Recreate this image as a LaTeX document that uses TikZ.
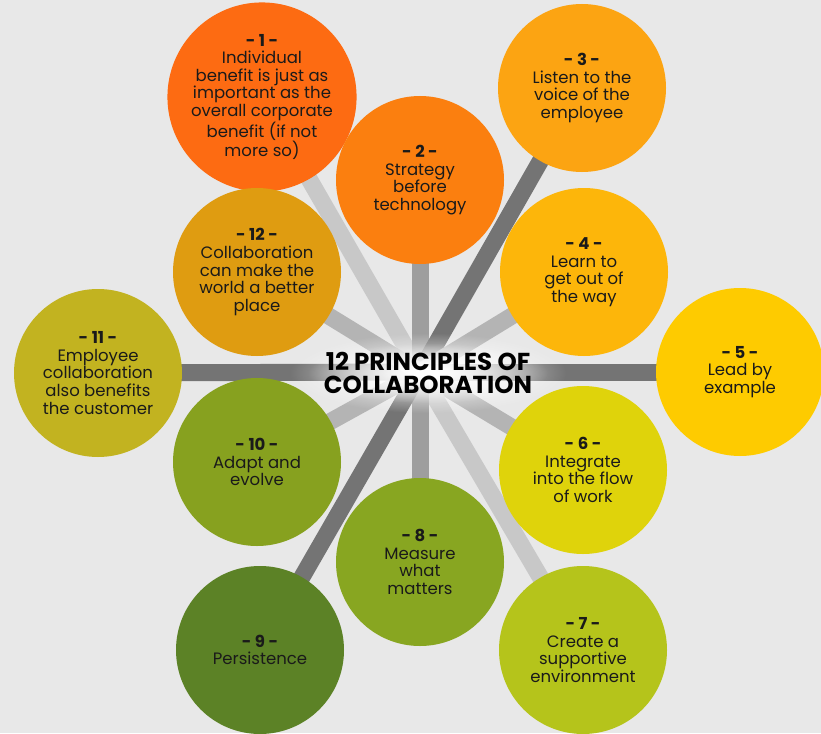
\documentclass[tikz,border=0pt]{standalone}
\usepackage{fontspec}
\setmainfont{Poppins}
\usetikzlibrary{backgrounds,fadings}
\definecolor{bgc}{HTML}{E8E8E8}
\definecolor{txt}{HTML}{1A1A1A}
\definecolor{cA}{HTML}{FD6B12}
\definecolor{cB}{HTML}{FB7F0F}
\definecolor{cC}{HTML}{FCA412}
\definecolor{cD}{HTML}{FDB60A}
\definecolor{cE}{HTML}{FECB00}
\definecolor{cF}{HTML}{DFD30B}
\definecolor{cG}{HTML}{B5C41B}
\definecolor{cH}{HTML}{88A621}
\definecolor{cI}{HTML}{5C8226}
\definecolor{cJ}{HTML}{87A11F}
\definecolor{cK}{HTML}{C2B320}
\definecolor{cL}{HTML}{DF9C11}
\definecolor{gDark}{HTML}{747474}
\definecolor{gMid}{HTML}{9E9E9E}
\definecolor{gLight}{HTML}{B4B4B4}
\definecolor{gPale}{HTML}{C8C8C8}
\tikzfading[name=glowfade, inner color=transparent!0, outer color=transparent!100]
\tikzset{
  bubble/.style={circle, minimum size=168pt, inner sep=0pt, text=txt, align=center,
    font=\fontsize{16.5}{17.6}\selectfont},
  spoke/.style={line width=17pt},
  titletext/.style={align=center, font=\fontsize{24.5}{23.5}\selectfont\bfseries},
}
\begin{document}
\begin{tikzpicture}[x=1pt,y=-1pt]
\useasboundingbox (0,0) rectangle (821,733);
\coordinate (hub) at (420,372);
\node[bubble, fill=cA] (c1) at (262,97) {\textbf{- 1 -}\\Individual\\benefit is just as\\important as the\\overall corporate\\benefit (if not\\more so)};
\node[bubble, fill=cB] (c2) at (420,180) {\textbf{- 2 -}\\Strategy\\before\\technology};
\node[bubble, fill=cC] (c3) at (582,88) {\textbf{- 3 -}\\Listen to the\\voice of the\\employee};
\node[bubble, fill=cD] (c4) at (584,272) {\textbf{- 4 -}\\Learn to\\get out of\\the way};
\node[bubble, fill=cE] (c5) at (740,372) {\textbf{- 5 -}\\Lead by\\example};
\node[bubble, fill=cF] (c6) at (583,470) {\textbf{- 6 -}\\Integrate\\into the flow\\of work};
\node[bubble, fill=cG] (c7) at (583,650) {\textbf{- 7 -}\\Create a\\supportive\\environment};
\node[bubble, fill=cH] (c8) at (420,562) {\textbf{- 8 -}\\Measure\\what\\matters};
\node[bubble, fill=cI] (c9) at (260,650) {\textbf{- 9 -}\\Persistence};
\node[bubble, fill=cJ] (c10) at (257,462) {\textbf{- 10 -}\\Adapt and\\evolve};
\node[bubble, fill=cK] (c11) at (98,373) {\textbf{- 11 -}\\Employee\\collaboration\\also benefits\\the customer};
\node[bubble, fill=cL] (c12) at (257,272) {\textbf{- 12 -}\\Collaboration\\can make the\\world a better\\place};
\begin{scope}[on background layer]
\fill[bgc] (0,0) rectangle (821,733);
\draw[spoke, gPale] (hub) -- (c1.center);
\draw[spoke, gMid] (hub) -- (c2.center);
\draw[spoke, gDark] (hub) -- (c3.center);
\draw[spoke, gLight] (hub) -- (c4.center);
\draw[spoke, gDark] (hub) -- (c5.center);
\draw[spoke, gLight] (hub) -- (c6.center);
\draw[spoke, gPale] (hub) -- (c7.center);
\draw[spoke, gMid] (hub) -- (c8.center);
\draw[spoke, gDark] (hub) -- (c9.center);
\draw[spoke, gLight] (hub) -- (c10.center);
\draw[spoke, gDark] (hub) -- (c11.center);
\draw[spoke, gLight] (hub) -- (c12.center);
\end{scope}
\fill[white, path fading=glowfade] (428,373) ellipse (138pt and 40pt);
\fill[white, path fading=glowfade] (428,373) ellipse (120pt and 30pt);
\node[titletext, text=black] (title) at (428,373) {12 PRINCIPLES OF\\COLLABORATION};
\end{tikzpicture}
\end{document}
